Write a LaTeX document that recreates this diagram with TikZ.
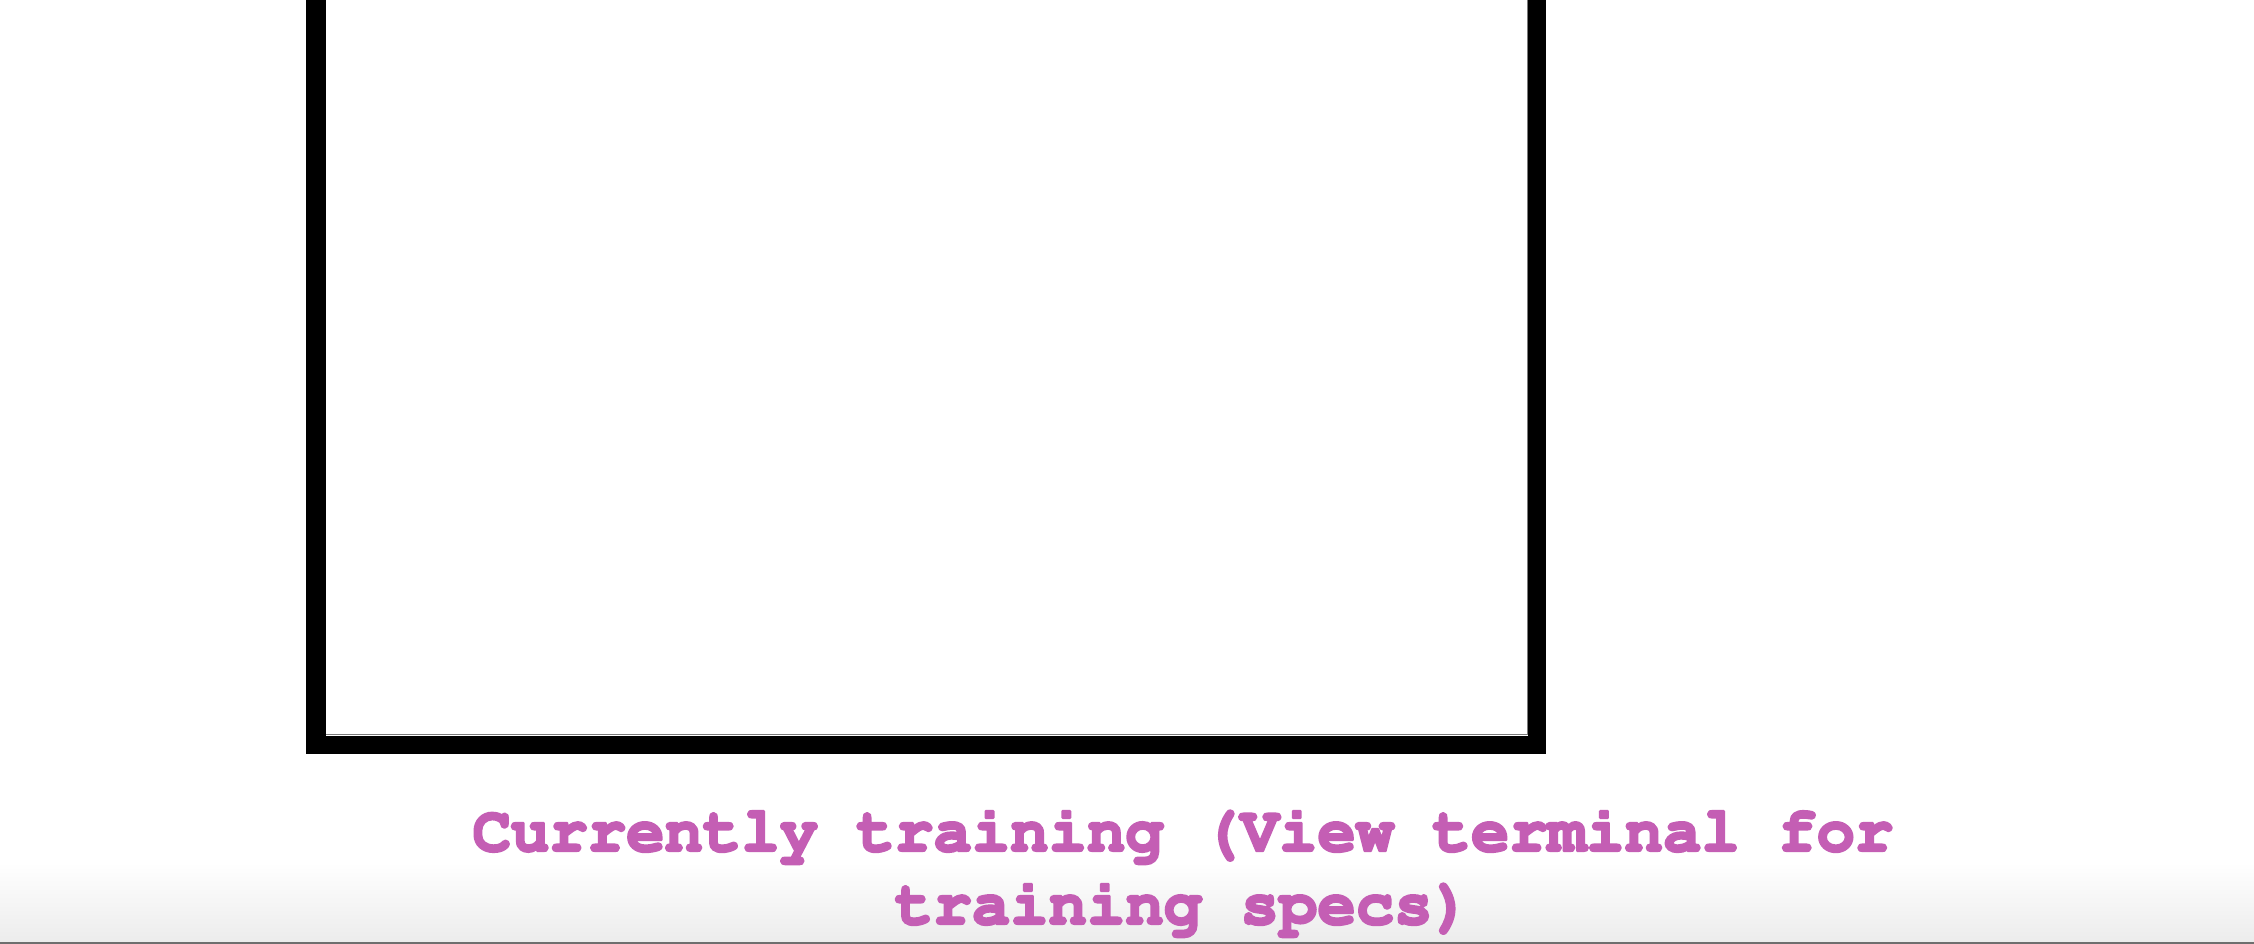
\documentclass[tikz,border=0pt]{standalone}
\usepackage[T1]{fontenc}
\definecolor{msgpink}{HTML}{C45EB4}
\definecolor{barline}{HTML}{6E6E6E}
\definecolor{bargray}{HTML}{ECECEC}
\definecolor{innerline}{HTML}{7A7A7A}
\newcommand{\heavytext}[1]{\special{pdf:literal direct 2.4 w 1 j 2 Tr}#1\special{pdf:literal direct 0 Tr}}
\begin{document}
\begin{tikzpicture}[x=1pt,y=-1pt,
  msg/.style={text=msgpink,font=\fontencoding{T1}\fontfamily{pcr}\fontseries{b}\fontshape{n}\fontsize{64}{72}\selectfont,anchor=base,inner sep=0pt}]
\useasboundingbox (0,0) rectangle (2254,944);
\fill[white] (0,0) rectangle (2254,944);
% bottom gradient bar
\shade[top color=white,bottom color=bargray] (0,862) rectangle (2254,942);
\fill[barline] (0,942) rectangle (2254,944);
% frame
\fill[black] (306,-5) rectangle (1546,754);
\fill[white] (326,-5) rectangle (1528,736);
\draw[innerline,line width=1.2pt] (326,734.4) -- (1527.4,734.4) -- (1527.4,-5);
% texts
\node[msg] (l1) at (1183,851) {\heavytext{Currently training (View terminal for}};
\node[msg] (l2) at (1183,924) {\heavytext{training specs)}};
\end{tikzpicture}
\end{document}
